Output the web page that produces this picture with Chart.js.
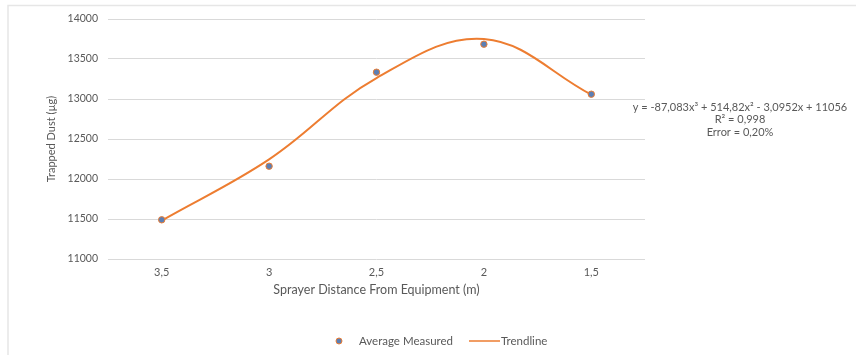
<!DOCTYPE html>
<html>
<head>
<meta charset="utf-8">
<script src="https://cdn.jsdelivr.net/npm/chart.js@4.4.1/dist/chart.umd.min.js"></script>
<style>
  html, body { margin: 0; padding: 0; background: #fff; }
  #wrap { width: 856px; height: 355px; position: relative; }
</style>
</head>
<body>
<div id="wrap"><canvas id="chart" width="856" height="355"></canvas></div>
<script>
// data
var distances = ['3,5', '3', '2,5', '2', '1,5'];
var measured = [11490, 12160, 13335, 13685, 13060];
var trend = [11480, 12245, 13262, 13750, 13055];
var yTicks = [11000, 11500, 12000, 12500, 13000, 13500, 14000];
var equationLines = ['y = -87,083x\u00b3 + 514,82x\u00b2 - 3,0952x + 11056', 'R\u00b2 = 0,998', 'Error = 0,20%'];

var FONT = 'Lato, "Open Sans", sans-serif';
var GREY = '#595959';
var ORANGE = '#ed7d31';
var BLUE = '#5b7fb5';

var extras = {
    id: 'extras',
    beforeDraw: function (chart) {
        var ctx = chart.ctx;
        ctx.save();
        ctx.strokeStyle = '#e6e6e6';
        ctx.lineWidth = 1.5;
        ctx.strokeRect(8, 5.5, 900, 400);
        ctx.restore();
    },
    afterDraw: function (chart) {
        var ctx = chart.ctx;
        ctx.save();
        // trendline equation
        ctx.fillStyle = GREY;
        ctx.font = '11px ' + FONT;
        ctx.textAlign = 'center';
        ctx.textBaseline = 'middle';
        equationLines.forEach(function (t, i) {
            ctx.fillText(t, 740, 107 + i * 12.5);
        });
        // legend
        var ly = 341;
        ctx.font = '11.5px ' + FONT;
        ctx.textAlign = 'left';
        ctx.beginPath();
        ctx.arc(339, ly, 3, 0, Math.PI * 2);
        ctx.fillStyle = BLUE;
        ctx.fill();
        ctx.strokeStyle = ORANGE;
        ctx.lineWidth = 1;
        ctx.stroke();
        ctx.fillStyle = GREY;
        ctx.fillText(chart.data.datasets[0].label, 359, ly);
        ctx.beginPath();
        ctx.moveTo(469, ly);
        ctx.lineTo(500, ly);
        ctx.strokeStyle = ORANGE;
        ctx.lineWidth = 1.5;
        ctx.stroke();
        ctx.fillText(chart.data.datasets[1].label, 501, ly);
        ctx.restore();
    }
};

new Chart(document.getElementById('chart'), {
    type: 'line',
    data: {
        labels: distances,
        datasets: [{
            label: 'Average Measured',
            data: measured,
            showLine: false,
            pointRadius: 3.2,
            pointBackgroundColor: BLUE,
            pointBorderColor: ORANGE,
            pointBorderWidth: 1,
            order: 0
        }, {
            label: 'Trendline',
            data: trend,
            borderColor: ORANGE,
            borderWidth: 2,
            pointRadius: 0,
            tension: 0.38,
            order: 1
        }]
    },
    plugins: [extras],
    options: {
        responsive: false,
        animation: false,
        layout: { padding: { left: 0, right: 211, top: 19, bottom: 54 } },
        plugins: { legend: { display: false }, tooltip: { enabled: false } },
        scales: {
            x: {
                offset: true,
                grid: { display: false, drawTicks: false },
                border: { display: false },
                ticks: { color: GREY, font: { family: FONT, size: 11 }, padding: 7 },
                title: {
                    display: true,
                    text: 'Sprayer Distance From Equipment (m)',
                    color: GREY,
                    font: { family: FONT, size: 12.5 },
                    padding: { top: 3 }
                },
                afterFit: function (s) { s.height = 42; }
            },
            y: {
                min: 11000,
                max: 14000,
                afterBuildTicks: function (s) { s.ticks = yTicks.map(function (v) { return { value: v }; }); },
                grid: { color: '#d9d9d9', lineWidth: 1, drawTicks: false },
                border: { display: false },
                ticks: {
                    color: GREY,
                    font: { family: FONT, size: 10.5 },
                    padding: 10,
                    callback: function (v) { return String(v); }
                },
                title: {
                    display: true,
                    text: 'Trapped Dust (\u00b5g)',
                    color: GREY,
                    font: { family: FONT, size: 11 },
                    padding: { top: 45 }
                },
                afterFit: function (s) { s.width = 108; }
            }
        }
    }
});
</script>
</body>
</html>
